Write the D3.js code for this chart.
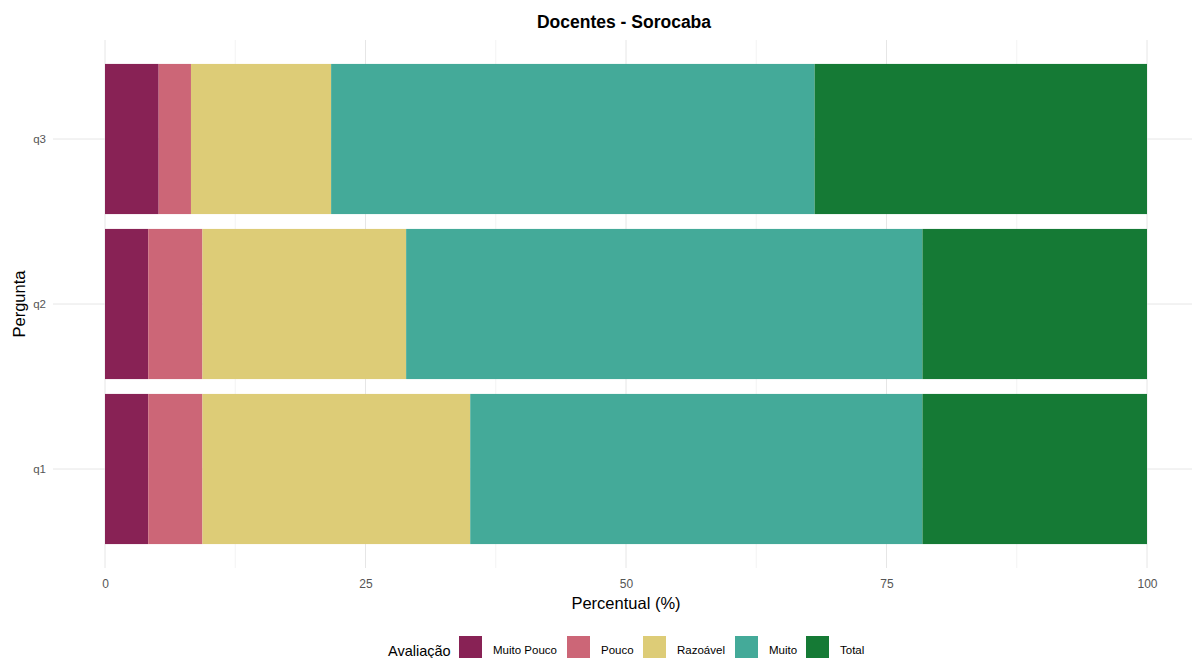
<!DOCTYPE html>
<html><head><meta charset="utf-8">
<script src="https://cdn.jsdelivr.net/npm/d3@7"></script>
<style>body{margin:0;background:#fff}svg{font-family:"Liberation Sans",Arial,sans-serif}</style>
</head><body><svg id="c" width="1192" height="658"></svg>
<script>
const categories = ["q1", "q2", "q3"];
const levels = ["Muito Pouco", "Pouco", "Razoável", "Muito", "Total"];
const muitoPouco = [4.15, 4.15, 5.15];
const pouco = [5.2, 5.2, 3.1];
const razoavel = [25.7, 19.55, 13.45];
const muito = [43.4, 49.55, 46.4];
const total = [21.55, 21.55, 31.9];
const colors = ["#882255", "#CC6677", "#DDCC77", "#44AA99", "#157A35"];
const xTicks = [0, 25, 50, 75, 100];
const xMinor = [12.5, 37.5, 62.5, 87.5];

const series = [muitoPouco, pouco, razoavel, muito, total];
const rows = categories.map((c, i) => {
  const r = {cat: c};
  levels.forEach((l, j) => r[l] = series[j][i]);
  return r;
});

const svg = d3.select("#c");
const panel = {left: 53, right: 1199, top: 40, bottom: 568};
const x = d3.scaleLinear().domain([0, 100]).range([105, 1147]);
const y = d3.scalePoint().domain(["q3", "q2", "q1"]).range([panel.top, panel.bottom]).padding(0.6);
const bh = y.step() * 0.91;
const color = d3.scaleOrdinal().domain(levels).range(colors);

// grid
const g = svg.append("g");
g.selectAll(".minor").data(xMinor).join("line")
  .attr("x1", d => x(d)).attr("x2", d => x(d)).attr("y1", panel.top).attr("y2", panel.bottom)
  .attr("stroke", "#ebebeb").attr("stroke-width", 0.6);
g.selectAll(".major").data(xTicks).join("line")
  .attr("x1", d => x(d)).attr("x2", d => x(d)).attr("y1", panel.top).attr("y2", panel.bottom)
  .attr("stroke", "#e6e6e6").attr("stroke-width", 1);
g.selectAll(".hy").data(categories).join("line")
  .attr("x1", panel.left).attr("x2", panel.right).attr("y1", d => y(d)).attr("y2", d => y(d))
  .attr("stroke", "#e6e6e6").attr("stroke-width", 1);

// bars
const stack = d3.stack().keys(levels)(rows);
svg.append("g").selectAll("g").data(stack).join("g")
  .attr("fill", d => color(d.key))
  .selectAll("rect").data(d => d).join("rect")
  .attr("x", d => x(d[0])).attr("width", d => x(d[1]) - x(d[0]))
  .attr("y", d => y(d.data.cat) - bh / 2).attr("height", bh);

// axes
const xa = svg.append("g").attr("transform", `translate(0,${panel.bottom + 4})`)
  .call(d3.axisBottom(x).tickValues(xTicks).tickSize(0).tickPadding(7).tickFormat(d3.format("d")));
xa.select(".domain").remove();
xa.selectAll("text").attr("fill", "#555555").attr("font-size", 12).attr("font-family", "Liberation Sans, Arial, sans-serif");

const ya = svg.append("g").attr("transform", `translate(${panel.left - 7},0)`)
  .call(d3.axisLeft(y).tickSize(0).tickPadding(0));
ya.select(".domain").remove();
ya.selectAll("text").attr("fill", "#555555").attr("font-size", 11.5).attr("font-family", "Liberation Sans, Arial, sans-serif");

// titles
svg.append("text").attr("x", 624).attr("y", 28).attr("text-anchor", "middle")
  .attr("font-weight", "bold").attr("font-size", 17.5).attr("fill", "#000").text("Docentes - Sorocaba");
svg.append("text").attr("x", 626).attr("y", 609).attr("text-anchor", "middle")
  .attr("font-size", 16.5).attr("fill", "#000").text("Percentual (%)");
svg.append("text").attr("transform", "translate(25,304) rotate(-90)").attr("text-anchor", "middle")
  .attr("font-size", 16.5).attr("fill", "#000").text("Pergunta");

// legend
const lg = svg.append("g");
lg.append("text").attr("x", 388).attr("y", 656).attr("font-size", 14.5).attr("fill", "#000").text("Avaliação");
const keyX = [459, 567, 643, 735, 806];
levels.forEach((l, i) => {
  lg.append("rect").attr("x", keyX[i]).attr("y", 636).attr("width", 23).attr("height", 23).attr("fill", colors[i]);
  lg.append("text").attr("x", keyX[i] + 34).attr("y", 654).attr("font-size", 11.5).attr("fill", "#000").text(l);
});
</script></body></html>
